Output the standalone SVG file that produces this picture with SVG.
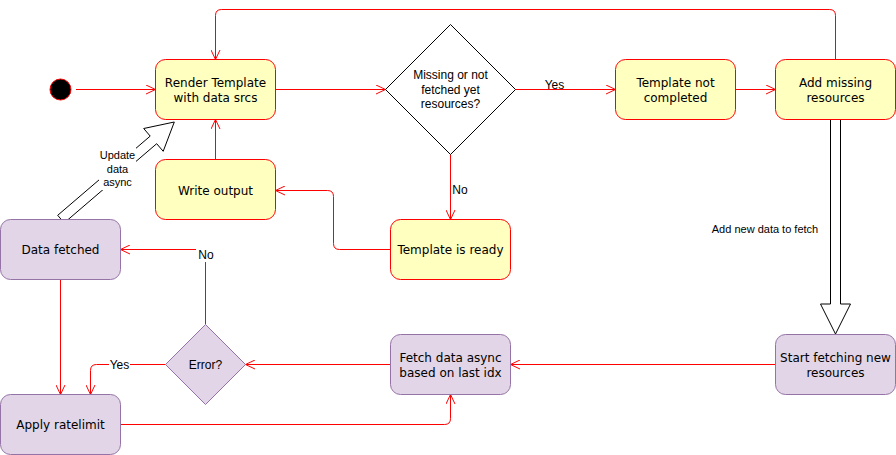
<svg xmlns="http://www.w3.org/2000/svg" width="896" height="455" viewBox="0 0 896 455">
<defs>
<marker id="open" markerUnits="userSpaceOnUse" markerWidth="12" markerHeight="10" viewBox="0 0 12 10" refX="10" refY="5" orient="auto">
<path d="M0.5,0.5 L10,5 L0.5,9.5" fill="none" stroke="#ff0000" stroke-width="1"/>
</marker>
</defs>
<style>
.state{fill:#ffffc0;stroke:#ff0000;stroke-width:1}
.proc{fill:#e1d5e7;stroke:#9673a6;stroke-width:1}
.edge{fill:none;stroke:#ff0000;stroke-width:1;marker-end:url(#open)}
.line{fill:none;stroke:#ff0000;stroke-width:1}
.block{fill:#ffffff;stroke:#000000;stroke-width:1}
.nt{font-family:"DejaVu Sans",Verdana,sans-serif;font-size:12px;fill:#000000;text-anchor:middle}
.lt{font-family:"Liberation Sans",Arial,Helvetica,sans-serif;font-size:12px;fill:#000000;text-anchor:middle}
.st{font-family:"Liberation Sans",Arial,Helvetica,sans-serif;font-size:11px;fill:#000000;text-anchor:middle}
</style>
<rect width="896" height="455" fill="#ffffff"/>

<g id="connectors">
<path class="edge" d="M76,89.5 L155.5,89.5"/>
<path class="edge" d="M275.5,89.5 L385.5,89.5"/>
<path class="edge" d="M515.5,89.5 L615.5,89.5"/>
<path class="edge" d="M735.5,89.5 L775.5,89.5"/>
<path class="edge" d="M835.5,59.5 L835.5,15.5 Q835.5,9.5 829.5,9.5 L221.5,9.5 Q215.5,9.5 215.5,15.5 L215.5,59.5"/>
<path class="edge" d="M450.5,154.5 L450.5,219.5"/>
<path class="edge" d="M390.5,249.5 L339.5,249.5 Q333.5,249.5 333.5,243.5 L333.5,196.5 Q333.5,190.5 327.5,190.5 L275.5,190.5"/>
<path class="edge" d="M215.5,159.5 L215.5,119.5"/>
<path class="edge" d="M775.5,364.5 L510.5,364.5"/>
<path class="edge" d="M390.5,364.5 L245.5,364.5"/>
<path class="edge" d="M205.5,324.5 L205.5,249.5 L120.5,249.5"/>
<path class="edge" d="M165.5,364.5 L96.5,364.5 Q90.5,364.5 90.5,370.5 L90.5,394.5"/>
<path class="edge" d="M60.5,279.5 L60.5,394.5"/>
<path class="edge" d="M120.5,424.5 L444.5,424.5 Q450.5,424.5 450.5,418.5 L450.5,394.5"/>
<polygon class="block" points="830.5,119.5 840.5,119.5 840.5,304 850.5,304 835.5,334 820.5,304 830.5,304"/>
<polygon class="block" points="57.7,215.3 150.2,136.1 143.7,128.5 174.3,122 163.2,151.3 156.7,143.7 64.2,222.9"/>
<text class="lt" x="554.5" y="88.5">Yes</text>
<text class="lt" x="460" y="193.5">No</text>
<rect x="196" y="246" width="20" height="16" fill="#ffffff"/>
<text class="lt" x="206" y="258.5">No</text>
<rect x="109" y="357" width="21" height="15" fill="#ffffff"/>
<text class="lt" x="119.5" y="369">Yes</text>
<rect x="99" y="147" width="37" height="43" fill="#ffffff"/>
<text class="st" x="117.5" y="159">Update</text>
<text class="st" x="117.5" y="172.5">data</text>
<text class="st" x="117.5" y="186">async</text>
<text class="st" x="765" y="233">Add new data to fetch</text>
</g>

<g id="start">
<circle cx="60.5" cy="89.5" r="10.5" fill="#000000" stroke="#ff0000" stroke-width="1"/>
</g>
<g id="render">
<rect class="state" x="155.5" y="59.5" width="120" height="60" rx="10"/>
<text class="nt" x="215.5" y="87">Render Template</text>
<text class="nt" x="215.5" y="102">with data srcs</text>
</g>
<g id="decision">
<polygon points="450.5,24.5 515.5,89.5 450.5,154.5 385.5,89.5" fill="#ffffff" stroke="#000000" stroke-width="1"/>
<text class="lt" x="450.5" y="79">Missing or not</text>
<text class="lt" x="450.5" y="93.5">fetched yet</text>
<text class="lt" x="450.5" y="107.5">resources?</text>
</g>
<g id="not-completed">
<rect class="state" x="615.5" y="59.5" width="120" height="60" rx="10"/>
<text class="nt" x="675.5" y="87">Template not</text>
<text class="nt" x="675.5" y="102">completed</text>
</g>
<g id="add-missing">
<rect class="state" x="775.5" y="59.5" width="120" height="60" rx="10"/>
<text class="nt" x="835.5" y="87">Add missing</text>
<text class="nt" x="835.5" y="102">resources</text>
</g>
<g id="write-output">
<rect class="state" x="155.5" y="159.5" width="120" height="60" rx="10"/>
<text class="nt" x="215.5" y="194.5">Write output</text>
</g>
<g id="ready">
<rect class="state" x="390.5" y="219.5" width="120" height="60" rx="10"/>
<text class="nt" x="450.5" y="254">Template is ready</text>
</g>
<g id="data-fetched">
<rect class="proc" x="0.5" y="219.5" width="120" height="60" rx="10"/>
<text class="nt" x="60.5" y="254">Data fetched</text>
</g>
<g id="error">
<polygon class="proc" points="205.5,324.5 245.5,364.5 205.5,404.5 165.5,364.5"/>
<text class="lt" x="205.5" y="368.5">Error?</text>
</g>
<g id="fetch-async">
<rect class="proc" x="390.5" y="334.5" width="120" height="60" rx="10"/>
<text class="nt" x="450.5" y="362">Fetch data async</text>
<text class="nt" x="450.5" y="377">based on last idx</text>
</g>
<g id="start-fetching">
<rect class="proc" x="775.5" y="334.5" width="120" height="60" rx="10"/>
<text class="nt" x="835.5" y="362">Start fetching new</text>
<text class="nt" x="835.5" y="377">resources</text>
</g>
<g id="ratelimit">
<rect class="proc" x="0.5" y="394.5" width="120" height="60" rx="10"/>
<text class="nt" x="60.5" y="429">Apply ratelimit</text>
</g>
</svg>
